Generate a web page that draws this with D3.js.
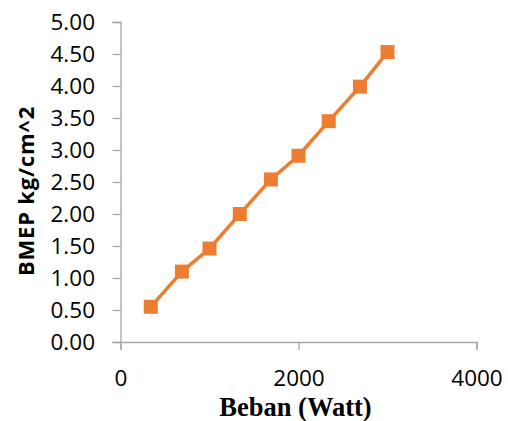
<!DOCTYPE html>
<html><head><meta charset="utf-8">
<script src="https://cdn.jsdelivr.net/npm/d3@7"></script>
<style>body{margin:0;background:#fff}svg{display:block}</style>
</head><body>
<svg id="c" width="508" height="421"></svg>
<script>
const beban = [340, 690, 1000, 1340, 1690, 2000, 2340, 2690, 3000];
const bmep = [0.55, 1.10, 1.46, 2.00, 2.54, 2.91, 3.45, 3.99, 4.53];
const xTicks = [0, 2000, 4000];
const yTicks = [0, 0.5, 1, 1.5, 2, 2.5, 3, 3.5, 4, 4.5, 5];
const xTitle = "Beban (Watt)";
const yTitle = "BMEP kg/cm^2";

const svg = d3.select("#c");
const x = d3.scaleLinear().domain([0, 4000]).range([120.5, 476.5]);
const y = d3.scaleLinear().domain([0, 5]).range([342, 22]);
const axisColor = "#a6a6a6";

const gx = svg.append("g").attr("transform", "translate(0,342)")
  .call(d3.axisBottom(x).tickValues(xTicks).tickFormat(d3.format("d")).tickSize(8).tickPadding(20));
const gy = svg.append("g").attr("transform", "translate(120.5,0)")
  .call(d3.axisLeft(y).tickValues(yTicks).tickFormat(d3.format(".2f")).tickSize(8).tickPadding(17.5));
[gx, gy].forEach(g => {
  g.select(".domain").attr("stroke", axisColor).attr("stroke-width", 1.3);
  g.selectAll(".tick line").attr("stroke", axisColor).attr("stroke-width", 1.3);
  g.selectAll("text").attr("fill", "#000").style("font-family", "'Open Sans', sans-serif").style("font-size", "22.5px");
});
gx.selectAll("text").attr("dy", null).attr("dominant-baseline", "auto").attr("y", 44);

const line = d3.line().x((d, i) => x(beban[i])).y(d => y(d));
svg.append("path").datum(bmep).attr("d", line)
  .attr("fill", "none").attr("stroke", "#ed7d31").attr("stroke-width", 3.5).attr("stroke-linejoin", "round");
const s = 14;
svg.selectAll("rect.m").data(bmep).join("rect").attr("class", "m")
  .attr("x", (d, i) => x(beban[i]) - s / 2).attr("y", d => y(d) - s / 2)
  .attr("width", s).attr("height", s).attr("fill", "#ed7d31");

svg.append("text").attr("x", 295.5).attr("y", 416).attr("text-anchor", "middle")
  .style("font-family", "'Liberation Serif', serif").style("font-weight", "bold").style("font-size", "26.5px")
  .text(xTitle);
svg.append("text").attr("transform", "translate(33.5,191) rotate(-90)").attr("text-anchor", "middle")
  .style("font-family", "'Open Sans', sans-serif").style("font-weight", "bold").style("font-size", "22px")
  .style("letter-spacing", "0.8px")
  .text(yTitle);
</script>
</body></html>
